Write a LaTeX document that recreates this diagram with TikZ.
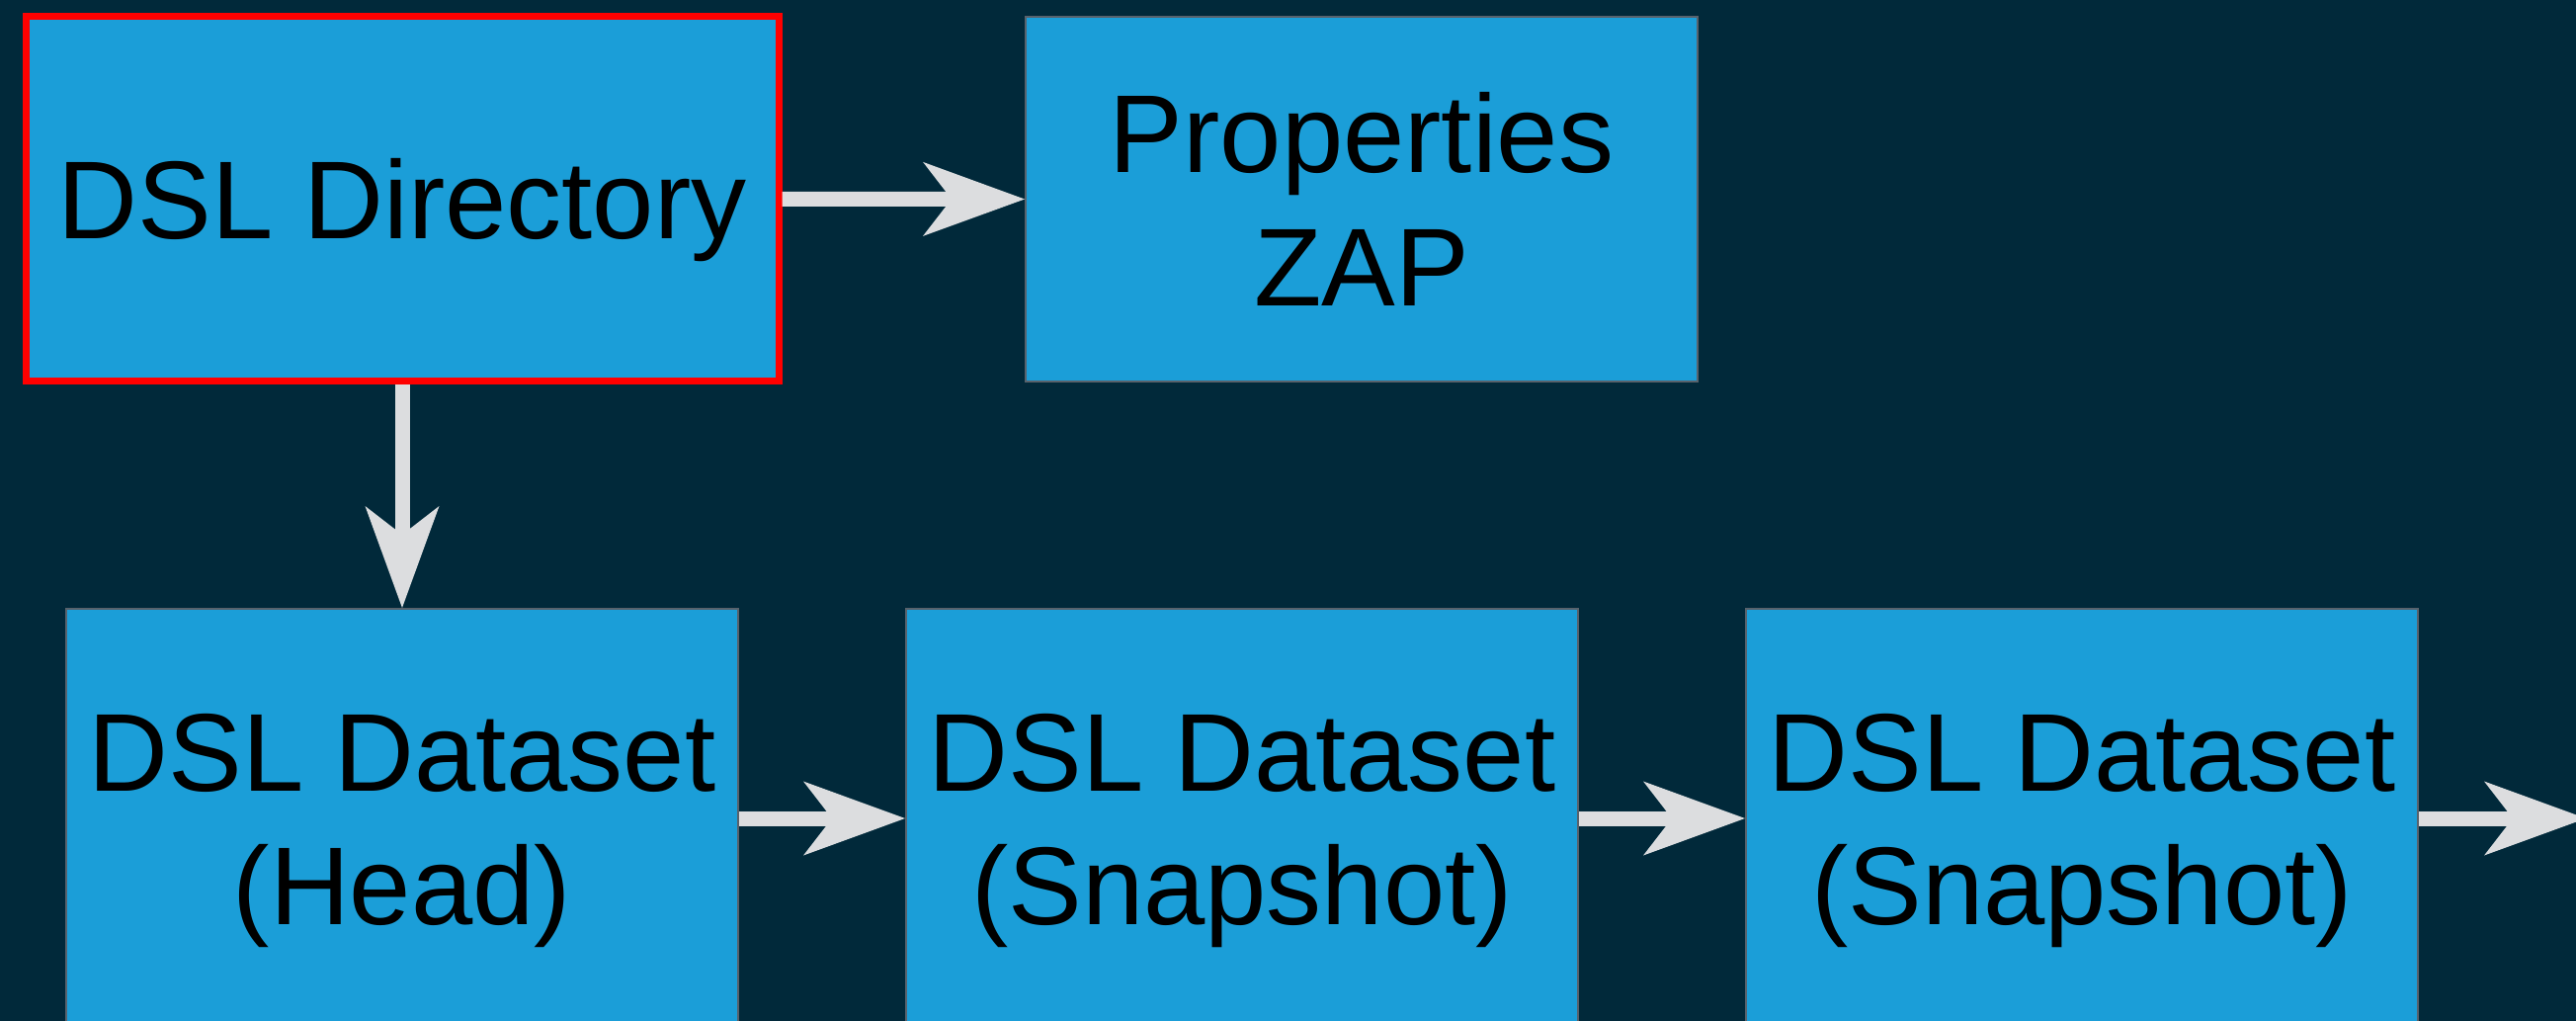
\documentclass[tikz,border=0pt]{standalone}
\usepackage{fontspec}
\setmainfont{Liberation Sans}
\usetikzlibrary{arrows.meta}
\definecolor{bg}{RGB}{1,41,58}
\definecolor{boxblue}{RGB}{27,158,216}
\definecolor{edgegray}{RGB}{88,98,108}
\definecolor{arrowgray}{RGB}{220,221,223}
\definecolor{hilite}{RGB}{255,0,0}
\newcommand{\twolines}[2]{\begin{tabular}[t]{@{}c@{}}#1\\#2\end{tabular}}
\begin{document}
\begin{tikzpicture}[x=1pt,y=-1pt,
  box/.style={rectangle, fill=boxblue, draw=edgegray, line width=2pt, inner sep=0pt,
    minimum width=680pt, minimum height=369pt,
    font=\fontsize{112}{135}\selectfont, text=black,
    text height=80pt, text depth=0pt},
  twoline/.style={text depth=135pt},
  tall/.style={minimum height=424pt},
  selected/.style={draw=hilite, line width=7pt, minimum width=762pt, minimum height=368.5pt},
  flow/.style={draw=arrowgray, line width=15pt,
    -{Stealth[length=103pt, width=75pt, inset=29pt, line width=0pt, fill=arrowgray]}}]
  % canvas
  \path[use as bounding box, fill=bg] (0,0) rectangle (2607,1033);
  % top row
  \node[box, selected] (dir) at (407,201.25) {DSL Directory};
  \node[box, twoline] (props) at (1378,201.5) {\twolines{Properties}{ZAP}};
  % dataset chain
  \node[box, twoline, tall] (head)  at (407,828)  {\twolines{DSL Dataset}{(Head)}};
  \node[box, twoline, tall] (snap1) at (1257,828) {\twolines{DSL Dataset}{(Snapshot)}};
  \node[box, twoline, tall] (snap2) at (2107,828) {\twolines{DSL Dataset}{(Snapshot)}};
  \coordinate (more) at (2617,828);
  % connectors
  \draw[flow] (dir.east) -- (props.west);
  \draw[flow] (dir.south) -- (head.north);
  \draw[flow] (head.east) -- (snap1.west);
  \draw[flow] (snap1.east) -- (snap2.west);
  \draw[flow] (snap2.east) -- (more);
\end{tikzpicture}
\end{document}
